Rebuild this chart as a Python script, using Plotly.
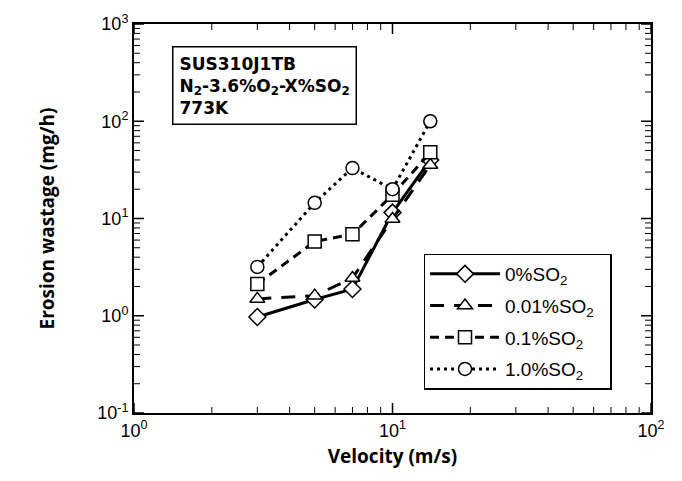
import plotly.graph_objects as go

velocity = [3, 5, 7, 10, 14]
so2_0 = [0.97, 1.47, 1.88, 11.5, 40]
so2_001 = [1.49, 1.61, 2.44, 9.9, 35.5]
so2_01 = [2.12, 5.8, 6.9, 17.5, 48]
so2_10 = [3.18, 14.5, 33, 20, 100]

names = ["0%SO<sub>2</sub>", "0.01%SO<sub>2</sub>&nbsp;&nbsp;", "0.1%SO<sub>2</sub>", "1.0%SO<sub>2</sub>"]
series = [so2_0, so2_001, so2_01, so2_10]
symbols = ["diamond", "triangle-up", "square", "circle"]
dashes = ["solid", "14px,10px", "9px,6px", "3px,4px"]

x_tickvals = [1, 10, 100]
x_ticktext = ["10<sup>0</sup>", "10<sup>1</sup>", "10<sup>2</sup>"]
y_tickvals = [0.1, 1, 10, 100, 1000]
y_ticktext = ["10<sup>-1</sup>", "10<sup>0</sup>", "10<sup>1</sup>", "10<sup>2</sup>", "10<sup>3</sup>"]
x_minor = [m * 10 ** e for e in range(0, 2) for m in range(2, 10)]
y_minor = [m * 10.0 ** e for e in range(-1, 3) for m in range(2, 10)]

fig = go.Figure()
for i, (nm, ys, sym, ds) in enumerate(zip(names, series, symbols, dashes)):
    fig.add_trace(go.Scatter(
        x=velocity, y=ys, name=nm, mode="lines+markers",
        line=dict(color="black", width=3, dash=ds),
        marker=dict(symbol=sym, size=13, color="white",
                    line=dict(color="black", width=1.5)),
        legendgroup=str(i),
    ))

tickfont = dict(family="Liberation Sans, Arial, sans-serif", size=18, color="black")
titlefont = dict(family="Open Sans, sans-serif", size=19, color="black", weight="bold")

fig.update_layout(
    xaxis=dict(type="log", range=[0, 2], tickmode="array", tickvals=x_tickvals, ticktext=x_ticktext,
               showline=True, linewidth=2, linecolor="black", mirror=True,
               ticks="", showgrid=False, zeroline=False, tickfont=tickfont,
               title=dict(text="Velocity (m/s)", font=titlefont, standoff=10)),
    yaxis=dict(type="log", range=[-1, 3], tickmode="array", tickvals=y_tickvals, ticktext=y_ticktext,
               showline=True, linewidth=2, linecolor="black", mirror=True,
               ticks="", showgrid=False, zeroline=False, tickfont=tickfont,
               title=dict(text="Erosion wastage (mg/h)", font=titlefont, standoff=38)),
)

# inside tick marks (major and minor), mirrored on all four sides, placed by the axes' own scales
def add_ticks(vals, length, width):
    for v in vals:
        for anchor, sgn in ((0, 1), (1, -1)):
            fig.add_shape(type="line", xref="x", yref="paper", x0=v, x1=v,
                          ysizemode="pixel", yanchor=anchor, y0=0, y1=sgn * length,
                          line=dict(color="black", width=width))
def add_yticks(vals, length, width):
    for v in vals:
        for anchor, sgn in ((0, 1), (1, -1)):
            fig.add_shape(type="line", yref="y", xref="paper", y0=v, y1=v,
                          xsizemode="pixel", xanchor=anchor, x0=0, x1=sgn * length,
                          line=dict(color="black", width=width))

add_ticks(x_tickvals, 10, 1.5)
add_ticks(x_minor, 6, 1)
add_yticks(y_tickvals, 10, 1.5)
add_yticks(y_minor, 6, 1)

fig.add_annotation(
    xref="paper", yref="paper", x=0.074, y=0.943, xanchor="left", yanchor="top",
    text="SUS310J1TB<br>N<sub>2</sub>-3.6%O<sub>2</sub>-X%SO<sub>2</sub><br>773K",
    showarrow=False, align="left",
    font=dict(family="DejaVu Sans, sans-serif", size=17, color="black", weight="bold"),
    bordercolor="black", borderwidth=1.5, borderpad=6, bgcolor="white",
)

fig.update_layout(
    width=682, height=481,
    margin=dict(l=134, r=31, t=21, b=68),
    paper_bgcolor="white", plot_bgcolor="white",
    showlegend=True,
    legend=dict(x=0.56, y=0.41, xanchor="left", yanchor="top",
                bordercolor="black", borderwidth=1.5, bgcolor="white",
                font=dict(family="Liberation Sans, Arial, sans-serif", size=19, color="black"),
                tracegroupgap=4, itemwidth=70),
)

fig.write_html("out.html")
